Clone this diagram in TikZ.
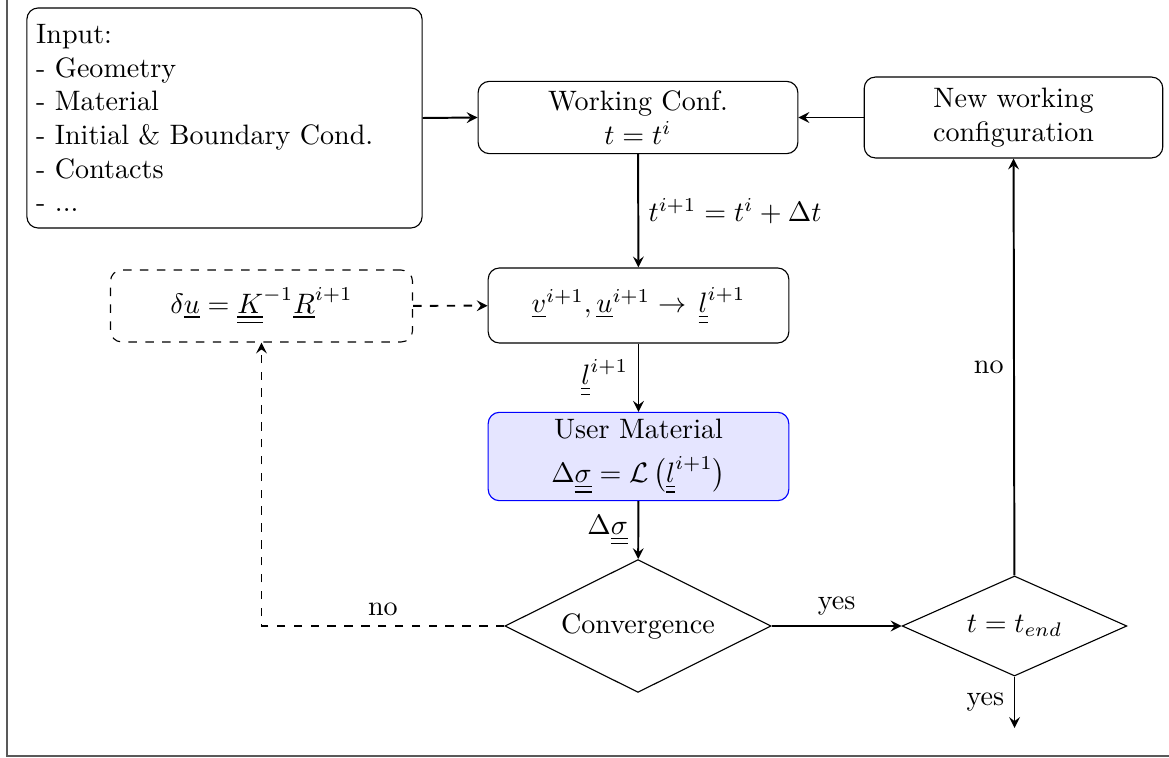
\documentclass[tikz,border=0pt]{standalone}
\usepackage{amsmath}
\usetikzlibrary{shapes.geometric,arrows.meta}
\definecolor{framegray}{gray}{0.35}
\begin{document}
\begin{tikzpicture}[x=0.3559pt,y=-0.3559pt,
  box/.style={draw,rounded corners=4pt,align=center,inner sep=3.33pt,line width=0.4pt},
  dia/.style={draw,diamond,inner sep=1pt,line width=0.4pt},
  conn/.style={line width=0.7pt,-stealth},
  dconn/.style={line width=0.7pt,dashed,-stealth}]
\useasboundingbox (0,0) rectangle (1169,758);
\draw[framegray,line width=0.5pt] (7,0) -- (7,756) -- (1169,756);

\node[box,text width=134pt,align=left,minimum height=78.3pt] (input) at (224.5,118)
  {Input:\\- Geometry\\- Material\\- Initial \& Boundary Cond.\\- Contacts\\- ...};
\node[box,minimum width=113.8pt] (wc) at (638,117.5) {Working Conf.\\$t=t^i$};
\node[box,text width=99.6pt,minimum height=28.8pt] (nw) at (1013.5,117.5) {New working\\configuration};
\node[box,minimum width=107pt,minimum height=26.7pt] (vb) at (638.5,305.5)
  {$\underline{v}^{i+1},\underline{u}^{i+1}\to\,\underline{\underline{l}}^{i+1}$};
\node[box,dashed,minimum width=107.5pt,minimum height=25.6pt] (du) at (261.5,306)
  {$\delta\underline{u}=\underline{\underline{K}}^{-1}\underline{R}^{i+1}$};
\node[box,draw=blue,fill=blue!10,minimum width=107pt,minimum height=31pt,inner sep=2.5pt] (um) at (638.5,456.5)
  {User Material\\[3.5pt]$\Delta\underline{\underline{\sigma}}=\mathcal{L}\left(\underline{\underline{l}}^{i+1}\right)$};
\node[dia,shape aspect=2,minimum width=94.7pt,minimum height=47.3pt] (conv) at (638,626) {Convergence};
\node[dia,shape aspect=2.25,minimum width=80pt,minimum height=35.6pt] (tend) at (1014.5,626) {$t=t_{end}$};
\coordinate (end) at (1014.5,728);

\draw[conn] (input.east) -- (wc.west);
\draw[conn] (nw.west) -- (wc.east);
\draw[conn] (wc) -- node[right] {$t^{i+1}=t^i+\Delta t$} (vb);
\draw[dconn] (du) -- (vb);
\draw[conn] (vb) -- node[left] {$\underline{\underline{l}}^{i+1}$} (um);
\draw[conn] (um) -- node[left] {$\Delta\underline{\underline{\sigma}}$} (conv);
\draw[conn] (conv) -- node[above] {yes} (tend);
\draw[dconn] (conv.west) -| node[pos=0.25,above] {no} (du.south);
\draw[conn] (tend) -- node[left] {no} (nw);
\draw[conn] (tend.south) -- node[left] {yes} (end);
\end{tikzpicture}
\end{document}
